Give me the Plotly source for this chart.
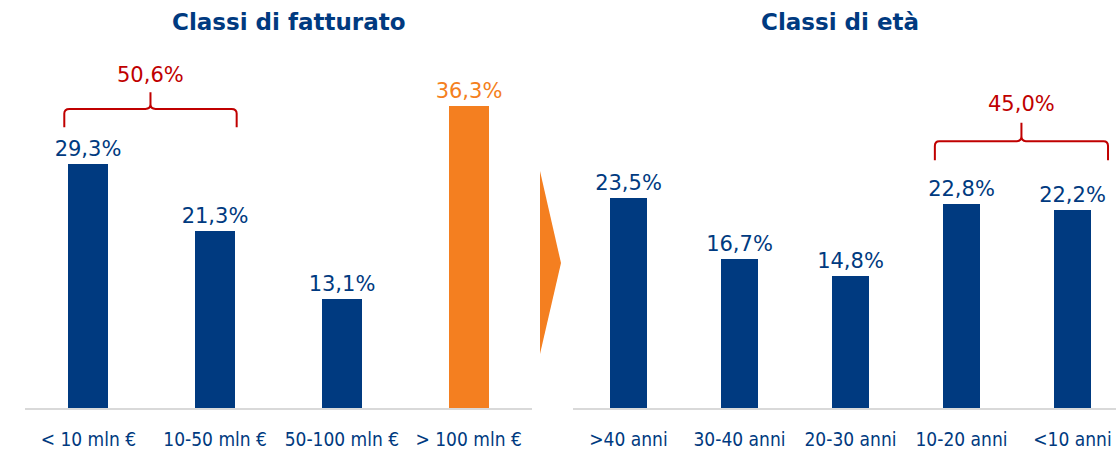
import plotly.graph_objects as go

# ---- data ----
rev_categories = ["< 10 mln €", "10-50 mln €", "50-100 mln €", "> 100 mln €"]
rev_values = [29.3, 21.3, 13.1, 36.3]
age_categories = [">40 anni", "30-40 anni", "20-30 anni", "10-20 anni", "<10 anni"]
age_values = [23.5, 16.7, 14.8, 22.8, 22.2]
rev_group = [0, 1]      # indices bracketed on left panel
age_group = [3, 4]      # indices bracketed on right panel
titles = ["Classi di fatturato", "Classi di età"]

BLUE = "#003A80"
ORANGE = "#F47F20"
RED = "#C00000"
GRID = "#D9D9D9"
W, H = 1116, 457

def fmt(v):
    return f"{v:.1f}%".replace(".", ",")

fig = go.Figure()

rev_colors = [BLUE] * 3 + [ORANGE]
fig.add_trace(go.Bar(
    x=list(range(len(rev_values))), y=rev_values, width=0.315,
    marker=dict(color=rev_colors, line=dict(width=0)),
    text=[fmt(v) for v in rev_values], textposition="outside", constraintext="none",
    textfont=dict(color=rev_colors, size=21, family="DejaVu Sans"),
    cliponaxis=False, xaxis="x", yaxis="y", showlegend=False,
))
fig.add_trace(go.Bar(
    x=list(range(len(age_values))), y=age_values, width=0.325,
    marker=dict(color=BLUE, line=dict(width=0)),
    text=[fmt(v) for v in age_values], textposition="outside", constraintext="none",
    textfont=dict(color=BLUE, size=21, family="DejaVu Sans"),
    cliponaxis=False, xaxis="x2", yaxis="y2", showlegend=False,
))

base_px = 49
y1_range = [0, (H - base_px) / 8.33]
y2_range = [0, (H - base_px) / 8.94]

tickfont = dict(family="DejaVu Sans Condensed", size=19, color=BLUE)
fig.update_layout(
    width=W, height=H, margin=dict(l=0, r=0, t=0, b=0),
    paper_bgcolor="white", plot_bgcolor="white", bargap=0,
    xaxis=dict(domain=[25 / W, 532 / W], range=[-0.5, 3.5],
               tickvals=list(range(len(rev_categories))), ticktext=rev_categories,
               showgrid=False, zeroline=False, showline=True, linecolor=GRID, linewidth=2,
               ticks="", tickfont=tickfont, ticklabelstandoff=13, fixedrange=True),
    yaxis=dict(domain=[base_px / H, 1], range=y1_range, visible=False, fixedrange=True),
    xaxis2=dict(domain=[573 / W, 1], range=[-0.5, -0.5 + 543 / 111],
                tickvals=list(range(len(age_categories))), ticktext=age_categories,
                showgrid=False, zeroline=False, showline=True, linecolor=GRID, linewidth=2,
                ticks="", tickfont=tickfont, ticklabelstandoff=13, fixedrange=True),
    yaxis2=dict(domain=[base_px / H, 1], range=y2_range, visible=False, fixedrange=True,
                anchor="x2"),
)

# titles
for txt, xc in zip(titles, [289 / W, 840 / W]):
    fig.add_annotation(text=f"<b>{txt}</b>", x=xc, y=1 - 22 / H, xref="paper", yref="paper",
                       showarrow=False, xanchor="center", yanchor="middle",
                       font=dict(family="DejaVu Sans", size=23, color=BLUE))

# brackets
def bracket(idx, values, xr, yr, x0off, x1off, low, high, spike, label_y):
    x0 = idx[0] + x0off
    x1 = idx[-1] + x1off
    xm = (x0 + x1) / 2
    r = 0.04
    ry = (high - low) * 0.25
    path = (f"M {x0} {low} L {x0} {high - ry} Q {x0} {high} {x0 + r} {high} "
            f"L {xm - r} {high} Q {xm} {high} {xm} {high + ry} L {xm} {spike} "
            f"M {xm} {high + ry} Q {xm} {high} {xm + r} {high} "
            f"L {x1 - r} {high} Q {x1} {high} {x1} {high - ry} L {x1} {low}")
    fig.add_shape(type="path", path=path, xref=xr, yref=yr,
                  line=dict(color=RED, width=2))
    total = sum(values[i] for i in idx)
    fig.add_annotation(text=fmt(total), x=xm, y=label_y, xref=xr, yref=yr,
                       showarrow=False, yanchor="middle",
                       font=dict(family="DejaVu Sans", size=21, color=RED))

bracket(rev_group, rev_values, "x", "y", -0.19, 0.17, 33.7, 35.9, 37.9, 40.0)
bracket(age_group, age_values, "x2", "y2", -0.24, 0.32, 27.7, 29.85, 31.9, 34.0)

# arrow between panels
fig.add_shape(type="path", xref="paper", yref="paper",
              path=f"M {540 / W} {1 - 171 / H} L {561 / W} {1 - 263 / H} L {540 / W} {1 - 354 / H} Z",
              fillcolor=ORANGE, line=dict(width=0))

fig.write_html("out.html")
